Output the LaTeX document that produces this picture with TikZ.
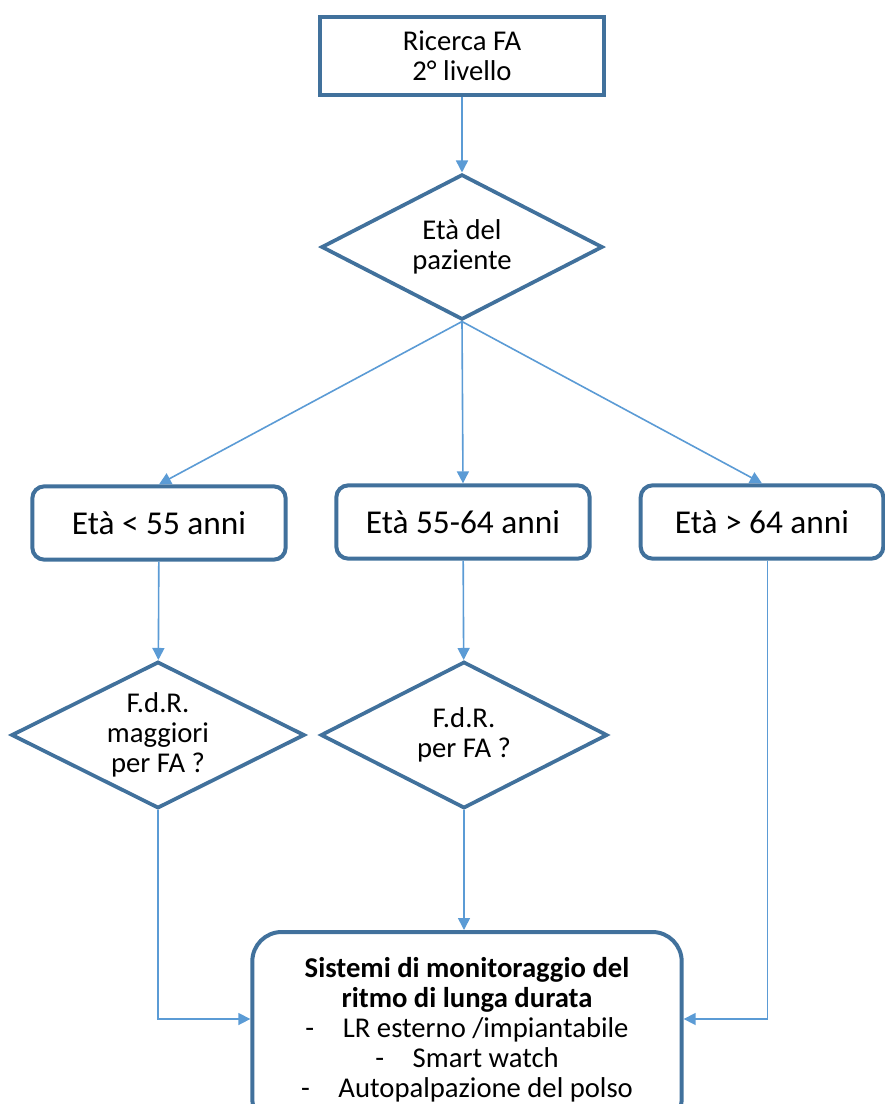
\documentclass[tikz,border=0pt]{standalone}
\usepackage{fontspec}
\setmainfont{Carlito}
\usepackage{tikz}
\usetikzlibrary{shapes.geometric, positioning, arrows.meta}
\definecolor{boxblue}{HTML}{41719C}
\definecolor{linkblue}{HTML}{5B9BD5}
\tikzset{x=0.75pt, y=0.75pt, >={Triangle[length=9pt, width=9pt]}, font=\fontsize{21.5}{22.5}\selectfont}

\begin{document}
\begin{tikzpicture}[block/.style={draw=boxblue, line width=3pt, fill=white, align=center, inner sep=0pt},
	test/.style={block, diamond, aspect=2, line width=2.8pt},
	age/.style={block, rounded corners=9pt, minimum width=190pt, minimum height=55pt, font=\fontsize{25}{27}\selectfont},
	link/.style={->, draw=linkblue, line width=1.2pt}]
	\useasboundingbox (0,0) rectangle (885,-1104);
	\node[block, minimum width=213pt, minimum height=58pt] (Search) at (462,-56) {Ricerca FA\\2° livello};
	\node[test, minimum width=211pt, minimum height=109pt] (Age) at (462,-247) {Età del\\paziente};
	\node[age] (Young) at (159,-523) {Età < 55 anni};
	\node[age] (Middle) at (463,-522) {Età 55-64 anni};
	\node[age, minimum width=182pt] (Old) at (762,-522) {Età > 64 anni};
	\node[test, minimum width=220pt, minimum height=110pt] (Major) at (158,-735) {F.d.R.\\maggiori\\per FA ?};
	\node[test, minimum width=215pt, minimum height=110pt] (Risk) at (464,-735) {F.d.R.\\per FA ?};
	\node[block, rounded corners=22pt, minimum width=322pt, minimum height=147pt] (Monitor) at (467,-1030)
		{\textbf{Sistemi di monitoraggio del}\\\textbf{ritmo di lunga durata}\\-\quad LR esterno /impiantabile\\-\quad Smart watch\\-\quad Autopalpazione del polso};
	\draw[link] (Search) -- (Age);
	\draw[link] (Age.south) -- (Young.north);
	\draw[link] (Age.south) -- (Middle.north);
	\draw[link] (Age.south) -- (Old.north);
	\draw[link] (Young) -- (Major);
	\draw[link] (Middle) -- (Risk);
	\draw[link] (Major.south) |- ([yshift=8.25pt]Monitor.west);
	\draw[link] (Risk.south) -- (Risk.south |- Monitor.north);
	\draw[link] ([xshift=4pt]Old.south) |- ([yshift=8.25pt]Monitor.east);
\end{tikzpicture}
\end{document}
